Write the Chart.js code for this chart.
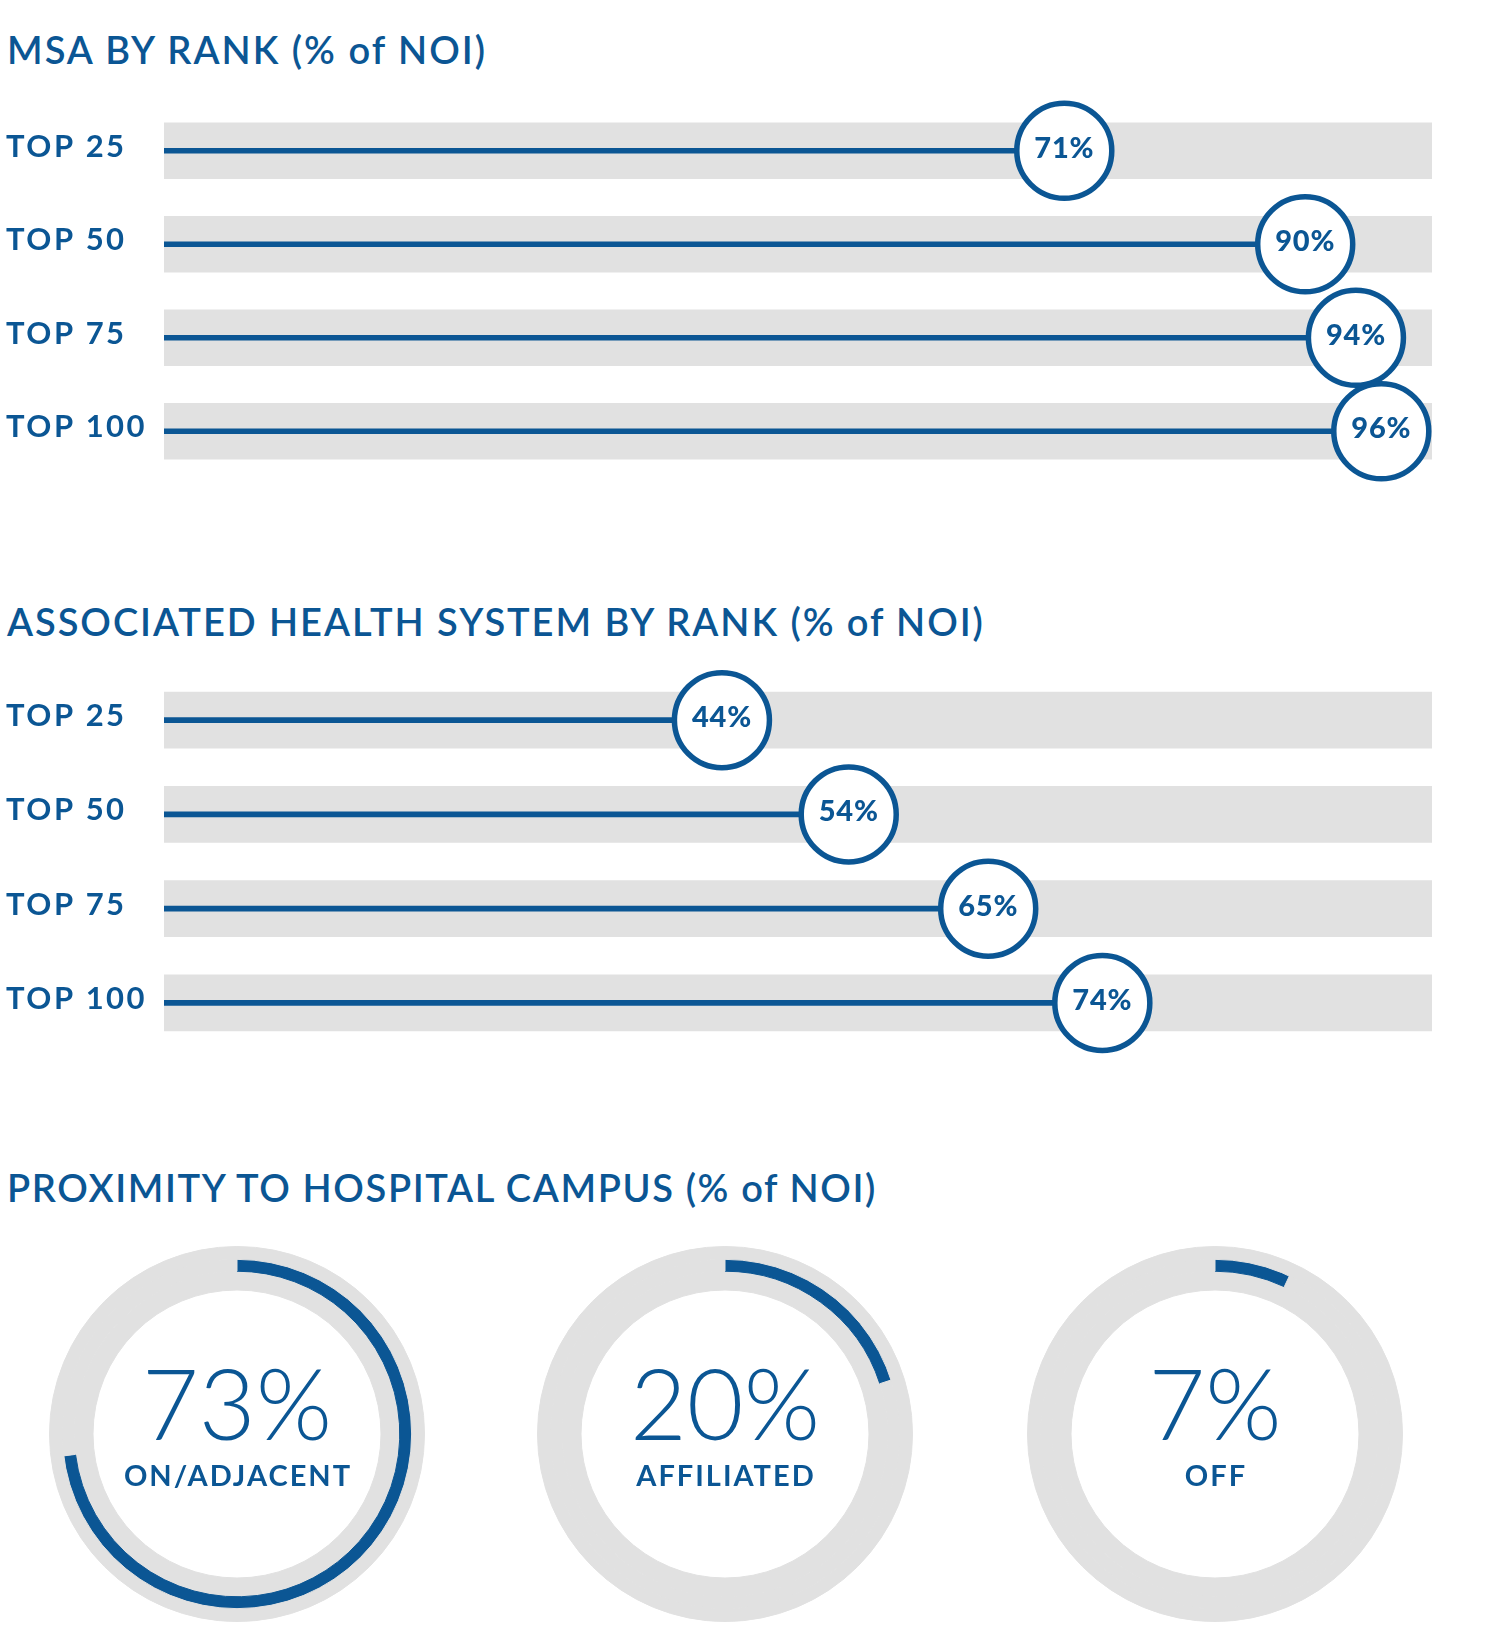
<!DOCTYPE html>
<html>
<head>
<meta charset="utf-8">
<script src="https://cdn.jsdelivr.net/npm/chart.js@4.4.1/dist/chart.umd.min.js"></script>
<style>
  html, body { margin: 0; padding: 0; background: #fff; }
  #page { position: relative; width: 1495px; height: 1632px; overflow: hidden; }
  .title {
    position: absolute; left: 7px; white-space: nowrap;
    font-family: Lato, sans-serif; font-weight: 600; font-size: 38px; line-height: 38px;
    color: #0b5694;
  }
  .box { position: absolute; }
</style>
</head>
<body>
<div id="page">
  <div class="title" id="t1" data-width="480" style="top:30px;">MSA BY RANK (% of NOI)</div>
  <div class="box" style="left:0; top:74px; width:1495px; height:434px;"><canvas id="msa-chart"></canvas></div>

  <div class="title" id="t2" data-width="978" style="top:602px;">ASSOCIATED HEALTH SYSTEM BY RANK (% of NOI)</div>
  <div class="box" style="left:0; top:643px; width:1495px; height:437px;"><canvas id="health-chart"></canvas></div>

  <div class="title" id="t3" data-width="870" style="top:1168px;">PROXIMITY TO HOSPITAL CAMPUS (% of NOI)</div>
  <div class="box" style="left:37px; top:1234px; width:400px; height:400px;"><canvas id="prox-0"></canvas></div>
  <div class="box" style="left:525px; top:1234px; width:400px; height:400px;"><canvas id="prox-1"></canvas></div>
  <div class="box" style="left:1015px; top:1234px; width:400px; height:400px;"><canvas id="prox-2"></canvas></div>
</div>

<script>
'use strict';

// ---- data ----
const rankLabels = ['TOP 25', 'TOP 50', 'TOP 75', 'TOP 100'];
const msaValues = [71, 90, 94, 96];
const healthValues = [44, 54, 65, 74];
const trackValues = [100, 100, 100, 100];
const proximityValues = [73, 20, 7];
const proximityLabels = ['ON/ADJACENT', 'AFFILIATED', 'OFF'];

const BLUE = '#0b5694';
const GRAY = '#e1e1e1';

// stretch title letter-spacing to the measured width of the original
document.querySelectorAll('.title').forEach(el => {
  const target = +el.dataset.width;
  const w = el.getBoundingClientRect().width;
  const n = el.textContent.length;
  el.style.letterSpacing = ((target - w) / n).toFixed(2) + 'px';
});

// value text inside the end circles
const circleLabels = {
  id: 'circleLabels',
  beforeDraw(chart) {
    chart.ctx.letterSpacing = '2.5px';
  },
  afterDatasetsDraw(chart) {
    const ctx = chart.ctx;
    const meta = chart.getDatasetMeta(0);
    const vals = chart.data.datasets[0].data;
    ctx.save();
    ctx.letterSpacing = '0.8px';
    ctx.font = '900 29px Lato';
    ctx.fillStyle = BLUE;
    ctx.textAlign = 'center';
    ctx.textBaseline = 'alphabetic';
    meta.data.forEach((pt, i) => ctx.fillText(vals[i] + '%', pt.x, pt.y + 7));
    ctx.restore();
  }
};

function makeRankChart(id, values) {
  return new Chart(document.getElementById(id), {
    type: 'bar',
    data: {
      labels: rankLabels,
      datasets: [
        {
          type: 'line',
          indexAxis: 'y',
          data: values,
          showLine: false,
          pointRadius: 47.5,
          pointHoverRadius: 47.5,
          pointBorderWidth: 5.5,
          pointBorderColor: BLUE,
          pointBackgroundColor: '#fff',
          clip: false,
          order: 0,
        },
        {
          type: 'bar',
          indexAxis: 'y',
          data: values,
          backgroundColor: BLUE,
          barThickness: 5,
          grouped: false,
          order: 1,
        },
        {
          type: 'bar',
          indexAxis: 'y',
          data: trackValues,
          backgroundColor: GRAY,
          barThickness: 56,
          grouped: false,
          order: 2,
        },
      ],
    },
    options: {
      indexAxis: 'y',
      responsive: true,
      maintainAspectRatio: false,
      animation: false,
      events: [],
      layout: { autoPadding: false, padding: { left: 6, right: 63, top: 30, bottom: 30 } },
      plugins: { legend: { display: false }, tooltip: { enabled: false } },
      scales: {
        x: { type: 'linear', min: 0, max: 100, display: false },
        y: {
          type: 'category',
          offset: true,
          grid: { display: false },
          border: { display: false },
          ticks: {
            color: BLUE,
            font: { family: 'Lato', size: 31, weight: '700' },
            crossAlign: 'far',
            padding: 0,
            labelOffset: -4,
          },
          afterFit(axis) { axis.width = 158; },
        },
      },
    },
    plugins: [circleLabels],
  });
}

makeRankChart('msa-chart', msaValues);
makeRankChart('health-chart', healthValues);

// big number + caption in the middle of each ring
const ringCenter = {
  id: 'ringCenter',
  afterDraw(chart) {
    const ctx = chart.ctx;
    const a = chart.chartArea;
    const cx = (a.left + a.right) / 2;
    const cy = (a.top + a.bottom) / 2;
    const o = chart.options.plugins.ringCenter;
    ctx.save();
    ctx.fillStyle = BLUE;
    ctx.textAlign = 'center';
    ctx.textBaseline = 'alphabetic';
    ctx.font = '300 98px Lato';
    ctx.fillText(o.value + '%', cx, cy + 5.5);
    ctx.letterSpacing = '2px';
    ctx.font = '700 29px Lato';
    ctx.fillText(o.label, cx + 1, cy + 51.5);
    ctx.restore();
  }
};

proximityValues.forEach((v, i) => {
  new Chart(document.getElementById('prox-' + i), {
    type: 'doughnut',
    data: {
      datasets: [
        { data: [100], backgroundColor: [GRAY], borderColor: [GRAY], borderWidth: 1, weight: 13 },
        { data: [v, 100 - v], backgroundColor: [BLUE, GRAY], borderColor: [BLUE, GRAY], borderWidth: 1, weight: 12 },
        { data: [100], backgroundColor: [GRAY], borderColor: [GRAY], borderWidth: 1, weight: 19 },
      ],
    },
    options: {
      responsive: true,
      maintainAspectRatio: false,
      animation: false,
      events: [],
      cutout: '76.8%',
      layout: { padding: 12 },
      plugins: {
        legend: { display: false },
        tooltip: { enabled: false },
        ringCenter: { value: v, label: proximityLabels[i] },
      },
    },
    plugins: [ringCenter],
  });
});
</script>
</body>
</html>
